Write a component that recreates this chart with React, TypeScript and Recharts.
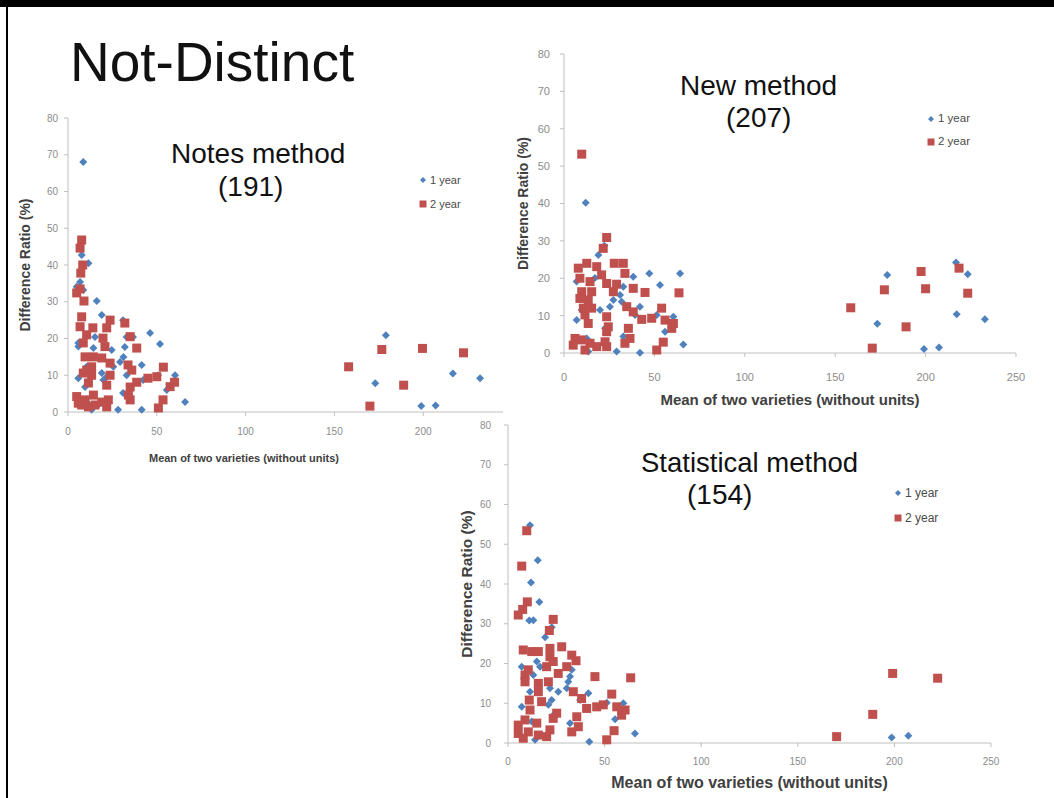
import React from 'react';
import { ScatterChart, Scatter, XAxis, YAxis, Legend } from 'recharts';

// Excel 2007 default palette
const BLUE = '#4F81BD';
const RED = '#C0504D';

const xTicks = [0, 50, 100, 150, 200, 250];
const yTicks = [0, 10, 20, 30, 40, 50, 60, 70, 80];
const seriesNames = ['1 year', '2 year'];

// Notes method (191)
const notesYear1 = [
  [8.6, 68], [7.7, 42.7], [11.5, 40.5], [6.8, 35.4], [4.9, 34.1], [8.6, 33.2], [16.2, 30.2], [19, 26.4],
  [31, 25], [46.2, 21.5], [51.8, 18.5], [5.8, 18.8], [5.8, 17.8], [15.2, 20.4], [33, 20.4], [36.6, 20.4],
  [24.6, 16.9], [32, 17.7], [14.3, 17.4], [31.2, 15], [29.3, 13.6], [41.5, 12.8], [25.5, 12.3], [19, 10.6],
  [10.5, 12.3], [60.3, 10], [50.7, 10], [5.8, 9.2], [19.9, 8.7], [21.8, 9.6], [33, 10], [55.6, 6],
  [42.3, 8.7], [9.6, 6.8], [31, 5.2], [65.9, 2.7], [28.2, 0.6], [41.5, 0.6], [13.3, 0.6], [10.5, 2.7],
  [17, 1.9], [179, 20.9], [173, 7.8], [198.9, 1.6], [207, 1.8], [216.7, 10.5], [232, 9.2],
];
const notesYear2 = [
  [7.7, 46.8], [6.8, 44.6], [8.3, 40], [7.2, 37.8], [6.8, 33.5], [4.9, 32.4], [9, 30.2], [7.7, 25.9],
  [6.8, 23.2], [14, 22.9], [23.7, 25], [21.8, 22.9], [32, 24.2], [10.5, 21], [35, 20.5], [38.7, 17.4],
  [19.7, 20.1], [20.8, 17.8], [8.6, 18.8], [9.6, 15], [14.3, 15], [19, 14.7], [13.3, 12.3], [10.5, 11.4],
  [23.7, 13.3], [33.8, 12.8], [35.9, 11.4], [45, 9.2], [50, 9.6], [53.7, 12.2], [60, 8.1], [57.5, 6.9],
  [13.3, 10], [11.5, 7.9], [23.7, 10], [21.8, 7.3], [35, 6.8], [38.7, 8.1], [4.9, 4.2], [5.8, 2.4],
  [9.6, 3.3], [14.3, 4.6], [15.2, 1.9], [19, 2.7], [22.7, 3.3], [21.8, 1.4], [35, 3.3], [34, 4.6],
  [50.9, 1.1], [53.5, 3.3], [7.7, 1.9], [11.5, 1.4], [8.6, 10.6],
  [158, 12.3], [176.7, 17], [170, 1.6], [189, 7.3], [199.6, 17.3], [222.7, 16.1],
];

// New method (207)
const newYear1 = [
  [12, 40.2], [22.3, 28.7], [19, 26.2], [7, 19.1], [17.1, 20.1], [38.3, 20.4], [47.2, 21.3], [64.2, 21.3],
  [53.1, 18.2], [32.8, 17.7], [31, 15.5], [27.3, 14.2], [31.9, 13.7], [25.4, 12.4], [42, 12.4], [19.9, 11.5],
  [9.8, 11.5], [39.3, 10.2], [60.5, 9.7], [7, 8.8], [51.3, 10.2], [22.7, 6.6], [55.9, 5.7], [32.8, 4.4],
  [66, 2.3], [29.1, 0.4], [42, 0.1], [13.4, 0.4], [12.6, 3.9],
  [178.8, 20.9], [173.3, 7.8], [199.1, 1.1], [207.4, 1.5], [216.8, 24.2], [223.3, 21.1], [217.2, 10.4], [232.8, 9],
];
const newYear2 = [
  [9.8, 53.2], [23.6, 30.9], [21.7, 28], [7.9, 22.7], [12.6, 24], [18.1, 23.1], [27.8, 24], [32.8, 24],
  [33.7, 21.3], [20.8, 20.9], [8.8, 20], [14.4, 19.1], [23.6, 18.6], [29.1, 18.4], [38.3, 17.3], [44.8, 16.2],
  [63.6, 16.1], [9.8, 16.4], [15.3, 16.4], [27.3, 16.4], [8.8, 14.6], [13.4, 14.2], [10.7, 12], [15.3, 12],
  [34.7, 12.4], [38.3, 11], [54, 12], [11.6, 10.2], [23.6, 9.7], [43, 9], [48.5, 9.3], [55.9, 8.8],
  [60.5, 7.9], [59.6, 6.6], [24.5, 7], [23.6, 5.7], [13.4, 7.9], [35.6, 6.6], [6.1, 3.9], [5.1, 2.1],
  [9.8, 3.5], [14.4, 2.6], [18.1, 1.7], [22.7, 3], [23.6, 1.7], [33.7, 2.6], [36.5, 3.9], [51.3, 0.8],
  [54.9, 2.9], [11.6, 0.8],
  [158.6, 12.1], [177.2, 16.9], [170.5, 1.3], [189.2, 7], [197.5, 21.8], [200, 17.2], [218.5, 22.7], [223.3, 16],
];

// Statistical method (154)
const statYear1 = [
  [11.4, 54.8], [15.4, 46], [11.9, 40.4], [16.2, 35.5], [11, 30.8], [13.1, 30.9], [22.6, 29.1], [19.2, 26.6],
  [7.1, 19.2], [14.9, 20.5], [16.6, 19.2], [33, 18.4], [32.1, 16.7], [31.2, 15.4], [13.1, 17.1], [21.7, 13.8],
  [26, 12.9], [30.4, 13.8], [41.6, 12.5], [11.4, 12.9], [22.6, 10.8], [20.9, 9.6], [37.3, 10.8], [51.1, 10.1],
  [59.7, 10], [7.1, 9.1], [55.4, 6], [23.4, 7], [32.1, 5], [65.7, 2.4], [42.1, 0.3], [14, 0.8], [12.3, 5.4],
  [198.6, 1.4], [207.2, 1.8],
];
const statYear2 = [
  [9.7, 53.4], [7.1, 44.5], [10, 35.5], [7.6, 33.6], [5.3, 32.2], [23.4, 31.1], [21.4, 28.3], [7.9, 23.4],
  [12.3, 23], [15.7, 23], [21.7, 23.8], [27.8, 24.2], [33, 22.1], [35.2, 20.7], [21.7, 21.7], [10.5, 18.4],
  [23.4, 20.5], [20, 19.2], [30.4, 19.2], [26, 17.5], [45, 16.7], [63.5, 16.4], [8.8, 17.1], [8.8, 15.4],
  [15.7, 15], [20.9, 15.4], [15.7, 12.9], [33.8, 12.9], [38.1, 11.2], [53.7, 12.3], [11, 10.8], [17.4, 10.4],
  [40.7, 8.7], [45.9, 9.1], [49.3, 9.6], [56.3, 9.1], [60.6, 8.3], [58.8, 7], [25.2, 7.5], [23.4, 6.2],
  [35.6, 6.6], [11.4, 8.3], [5.3, 4.5], [8.8, 5.8], [14.9, 5], [5.3, 2.4], [10.5, 2.8], [15.7, 2],
  [21.7, 3.3], [20, 1.6], [33, 2.8], [36.4, 4.1], [51.1, 0.8], [54.9, 3.1], [7.9, 1.2],
  [170.1, 1.6], [188.8, 7.2], [199.1, 17.5], [222.4, 16.3],
];

const pts = (arr: number[][]) => arr.map(([x, y]) => ({ x, y }));

const FONT = '"Liberation Sans", Arial, sans-serif';

const DiamondShape = (p: any) => {
  const { cx, cy } = p;
  const r = 4;
  return <polygon points={`${cx},${cy - r} ${cx + r},${cy} ${cx},${cy + r} ${cx - r},${cy}`} fill={BLUE} />;
};

const SquareShape = (p: any) => {
  const { cx, cy } = p;
  return <rect x={cx - 4.5} y={cy - 4.5} width={9} height={9} fill={RED} />;
};

const LegendRows = ({ rowH, fontSize }: { rowH: number; fontSize: number }) => (
  <div style={{ fontFamily: FONT, fontSize, color: '#4a4a4a', lineHeight: 1 }}>
    {seriesNames.map((name, i) => (
      <div key={name} style={{ height: rowH, display: 'flex', alignItems: 'center' }}>
        <svg width={10} height={10}>
          {i === 0 ? (
            <polygon points="5,2 8,5 5,8 2,5" fill={BLUE} />
          ) : (
            <rect x={1.5} y={1.5} width={7} height={7} fill={RED} />
          )}
        </svg>
        <span style={{ marginLeft: 2 }}>{name}</span>
      </div>
    ))}
  </div>
);

interface PanelProps {
  left: number;
  top: number;
  width: number;
  height: number;
  margin: { top: number; right: number; bottom: number; left: number };
  yAxisWidth: number;
  xAxisHeight: number;
  tickFont: number;
  yTickMargin: number;
  xTickMargin: number;
  xLabelFont: number;
  yLabelFont: number;
  xLabelOffset: number;
  xLabelDx: number;
  yLabelOffset: number;
  legendLeft: number;
  legendTop: number;
  legendRow: number;
  legendFont: number;
  year1: number[][];
  year2: number[][];
}

const Panel = (p: PanelProps) => (
  <div style={{ position: 'absolute', left: p.left, top: p.top, width: p.width, height: p.height, background: '#fff' }}>
    <ScatterChart width={p.width} height={p.height} margin={p.margin}>
      <XAxis
        type="number"
        dataKey="x"
        domain={[0, 250]}
        ticks={xTicks}
        height={p.xAxisHeight}
        stroke="#BFBFBF"
        tickSize={4}
        tickMargin={p.xTickMargin}
        tick={{ fontSize: p.tickFont, fill: '#8C8C8C', fontFamily: FONT }}
        label={{
          value: 'Mean of two varieties (without units)',
          position: 'insideBottom',
          offset: p.xLabelOffset,
          dx: p.xLabelDx,
          style: { fontSize: p.xLabelFont, fontWeight: 'bold', fill: '#404040', fontFamily: FONT },
        }}
      />
      <YAxis
        type="number"
        dataKey="y"
        domain={[0, 80]}
        ticks={yTicks}
        width={p.yAxisWidth}
        stroke="#BFBFBF"
        tickSize={4}
        tickMargin={p.yTickMargin}
        tick={{ fontSize: p.tickFont, fill: '#8C8C8C', fontFamily: FONT }}
        label={{
          value: 'Difference Ratio (%)',
          angle: -90,
          position: 'insideLeft',
          offset: p.yLabelOffset,
          style: { textAnchor: 'middle', fontSize: p.yLabelFont, fontWeight: 'bold', fill: '#404040', fontFamily: FONT },
        }}
      />
      <Legend
        layout="horizontal"
        verticalAlign="middle"
        align="center"
        wrapperStyle={{ left: p.legendLeft, top: p.legendTop, width: 80 }}
        content={() => <LegendRows rowH={p.legendRow} fontSize={p.legendFont} />}
      />
      <Scatter name={seriesNames[0]} data={pts(p.year1)} shape={DiamondShape} isAnimationActive={false} />
      <Scatter name={seriesNames[1]} data={pts(p.year2)} shape={SquareShape} isAnimationActive={false} />
    </ScatterChart>
  </div>
);

const Title = ({ text, left, top, size }: { text: string; left: number; top: number; size: number }) => (
  <div
    style={{
      position: 'absolute',
      left,
      top,
      fontFamily: FONT,
      fontSize: size,
      lineHeight: 1,
      color: '#111',
      whiteSpace: 'nowrap',
    }}
  >
    {text}
  </div>
);

export default function App() {
  return (
    <div style={{ position: 'absolute', left: 0, top: 0, width: 1054, height: 798, background: '#fff', overflow: 'hidden' }}>
      <Panel
        left={0} top={0} width={530} height={480}
        margin={{ top: 118, right: 18, bottom: 0, left: 0 }}
        yAxisWidth={68} xAxisHeight={68}
        tickFont={10} yTickMargin={6} xTickMargin={12}
        xLabelFont={11} yLabelFont={14} xLabelOffset={18} xLabelDx={-46} yLabelOffset={25}
        legendLeft={418} legendTop={168} legendRow={24} legendFont={11}
        year1={notesYear1} year2={notesYear2}
      />
      <Panel
        left={503} top={8} width={547} height={406}
        margin={{ top: 46, right: 34, bottom: 0, left: 0 }}
        yAxisWidth={61} xAxisHeight={61}
        tickFont={11} yTickMargin={10} xTickMargin={16}
        xLabelFont={15} yLabelFont={14} xLabelOffset={9} xLabelDx={0} yLabelOffset={20}
        legendLeft={423} legendTop={99} legendRow={23.4} legendFont={11.5}
        year1={newYear1} year2={newYear2}
      />
      <Panel
        left={440} top={414} width={610} height={384}
        margin={{ top: 11, right: 59, bottom: 0, left: 0 }}
        yAxisWidth={68} xAxisHeight={55}
        tickFont={10} yTickMargin={13} xTickMargin={11}
        xLabelFont={16} yLabelFont={15.5} xLabelOffset={10} xLabelDx={0} yLabelOffset={26}
        legendLeft={453} legendTop={66} legendRow={25} legendFont={12}
        year1={statYear1} year2={statYear2}
      />

      <Title text="Not-Distinct" left={70} top={35} size={55} />
      <Title text="Notes method" left={171} top={140} size={28} />
      <Title text="(191)" left={218} top={173} size={28} />
      <Title text="New method" left={680} top={72} size={28} />
      <Title text="(207)" left={726} top={104} size={28} />
      <Title text="Statistical method" left={641} top={449} size={27.5} />
      <Title text="(154)" left={687} top={481} size={28} />

      <div style={{ position: 'absolute', left: 0, top: 0, width: 1054, height: 7, background: '#000' }} />
      <div style={{ position: 'absolute', left: 6, top: 0, width: 2, height: 798, background: '#000' }} />
    </div>
  );
}
